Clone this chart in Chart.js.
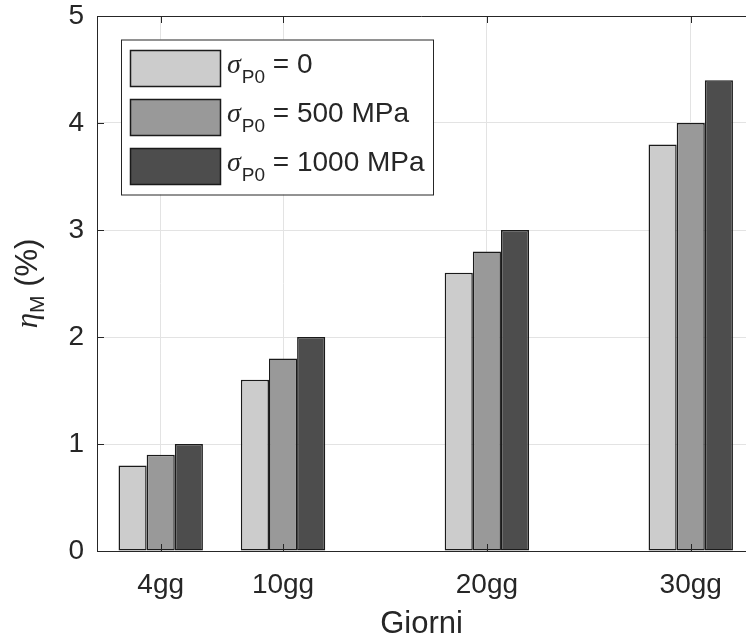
<!DOCTYPE html>
<html>
<head>
<meta charset="utf-8">
<script src="https://cdn.jsdelivr.net/npm/chart.js@4.4.0/dist/chart.umd.min.js"></script>
<style>
  html, body { margin: 0; padding: 0; background: #fff; overflow: hidden; }
</style>
</head>
<body>
<canvas id="myChart" width="746" height="644"></canvas>
<script>
// data
const days = [4, 10, 20, 30];
const dayLabels = ["4gg", "10gg", "20gg", "30gg"];
const yTicks = [0, 1, 2, 3, 4, 5];
const seriesNames = ["= 0", "= 500 MPa", "= 1000 MPa"];
const seriesColors = ["#cccccc", "#999999", "#4d4d4d"];
const etaSigma0 = [0.8, 1.6, 2.6, 3.8];
const etaSigma500 = [0.9, 1.8, 2.8, 4.0];
const etaSigma1000 = [1.0, 2.0, 3.0, 4.4];

const SANS = "'Liberation Sans', Arial, sans-serif";
const SERIF = "'Liberation Serif', 'Times New Roman', serif";
const INK = "#262626";
const EDGE = "#1a1a1a";

const toPoints = (vals) => vals.map((v, i) => ({ x: days[i], y: v }));

const datasets = [etaSigma0, etaSigma500, etaSigma1000].map((vals, i) => ({
  label: "σP0 " + seriesNames[i],
  data: toPoints(vals),
  backgroundColor: seriesColors[i],
  borderColor: EDGE,
  borderWidth: 1.5,
  borderSkipped: false,
  inflateAmount: 0,
  categoryPercentage: 0.69,
  barPercentage: 1.0,
}));

// MATLAB-like inward ticks + top box line
const boxTicks = {
  id: "boxTicks",
  afterDatasetsDraw(chart) {
    const { ctx, chartArea: a, scales } = chart;
    ctx.save();
    ctx.strokeStyle = INK;
    ctx.lineWidth = 1;
    ctx.beginPath();
    ctx.moveTo(a.left, a.top + 0.5);
    ctx.lineTo(a.right, a.top + 0.5);
    days.forEach((d) => {
      const x = Math.round(scales.x.getPixelForValue(d)) + 0.5;
      ctx.moveTo(x, a.bottom);
      ctx.lineTo(x, a.bottom - 7);
      ctx.moveTo(x, a.top);
      ctx.lineTo(x, a.top + 7);
    });
    yTicks.forEach((t) => {
      const y = Math.round(scales.y.getPixelForValue(t)) + 0.5;
      ctx.moveTo(a.left, y);
      ctx.lineTo(a.left + 7, y);
    });
    ctx.stroke();
    ctx.restore();
  },
};

const sigmaLegend = {
  id: "sigmaLegend",
  afterDraw(chart) {
    const ctx = chart.ctx;
    const bx = 121, by = 39.5, bw = 312, bh = 155;
    ctx.save();
    ctx.fillStyle = "#ffffff";
    ctx.fillRect(bx, by, bw, bh);
    ctx.strokeStyle = INK;
    ctx.lineWidth = 1;
    ctx.strokeRect(bx + 0.5, by + 0.5, bw, bh);
    chart.data.datasets.forEach((ds, i) => {
      const sy = 50 + i * 49;
      ctx.fillStyle = ds.backgroundColor;
      ctx.fillRect(130, sy, 90, 36);
      ctx.strokeStyle = EDGE;
      ctx.lineWidth = 1.5;
      ctx.strokeRect(130.5, sy + 0.5, 90, 36);
      const base = sy + 23;
      let x = 227;
      ctx.fillStyle = INK;
      ctx.textBaseline = "alphabetic";
      ctx.font = "italic 28px " + SERIF;
      ctx.fillText("σ", x, base);
      x += ctx.measureText("σ").width + 1;
      ctx.font = "19px " + SANS;
      ctx.fillText("P0", x, base + 10);
      x += ctx.measureText("P0").width;
      ctx.font = "28px " + SANS;
      ctx.fillText(" " + seriesNames[i], x, base);
    });
    ctx.restore();
  },
};

const etaTitle = {
  id: "etaTitle",
  afterDraw(chart) {
    const ctx = chart.ctx;
    const a = chart.chartArea;
    ctx.save();
    ctx.translate(37, (a.top + a.bottom) / 2);
    ctx.rotate(-Math.PI / 2);
    ctx.fillStyle = INK;
    ctx.textBaseline = "alphabetic";
    const parts = [
      { t: "η", f: "italic 31px " + SERIF, dy: 0 },
      { t: "M", f: "21px " + SANS, dy: 7 },
      { t: " (%)", f: "31px " + SANS, dy: 0 },
    ];
    let total = 0;
    parts.forEach((p) => { ctx.font = p.f; p.w = ctx.measureText(p.t).width; total += p.w; });
    let x = -total / 2;
    parts.forEach((p) => { ctx.font = p.f; ctx.fillText(p.t, x, p.dy); x += p.w; });
    ctx.restore();
  },
};

const ctx = document.getElementById("myChart").getContext("2d");
new Chart(ctx, {
  type: "bar",
  data: { datasets },
  options: {
    responsive: false,
    devicePixelRatio: 1,
    animation: false,
    layout: { padding: { top: 16, left: 0, right: 0, bottom: 0 } },
    plugins: {
      legend: { display: false },
      tooltip: { enabled: false },
    },
    scales: {
      x: {
        type: "linear",
        min: 0.874,
        max: 32.71,
        offset: false,
        afterBuildTicks: (scale) => { scale.ticks = days.map((v) => ({ value: v })); },
        afterFit: (scale) => { scale.height = 93; },
        grid: { offset: false, color: "#e3e3e3", drawTicks: false },
        border: { display: true, color: INK, width: 1 },
        ticks: {
          padding: 17,
          color: INK,
          font: { family: SANS, size: 28 },
          maxRotation: 0,
          callback: (v, i) => dayLabels[i],
        },
        title: {
          display: true,
          text: "Giorni",
          color: INK,
          font: { family: SANS, size: 31 },
          padding: { top: 0, bottom: 1 },
        },
      },
      y: {
        min: 0,
        max: 5,
        afterBuildTicks: (scale) => { scale.ticks = yTicks.map((v) => ({ value: v })); },
        afterFit: (scale) => { scale.width = 97; },
        grid: { color: "#e3e3e3", drawTicks: true, tickLength: 13, tickColor: "rgba(0,0,0,0)" },
        border: { display: true, color: INK, width: 1 },
        ticks: {
          padding: 0,
          color: INK,
          font: { family: SANS, size: 28, lineHeight: 1 },
        },
      },
    },
  },
  plugins: [boxTicks, sigmaLegend, etaTitle],
});
</script>
</body>
</html>
